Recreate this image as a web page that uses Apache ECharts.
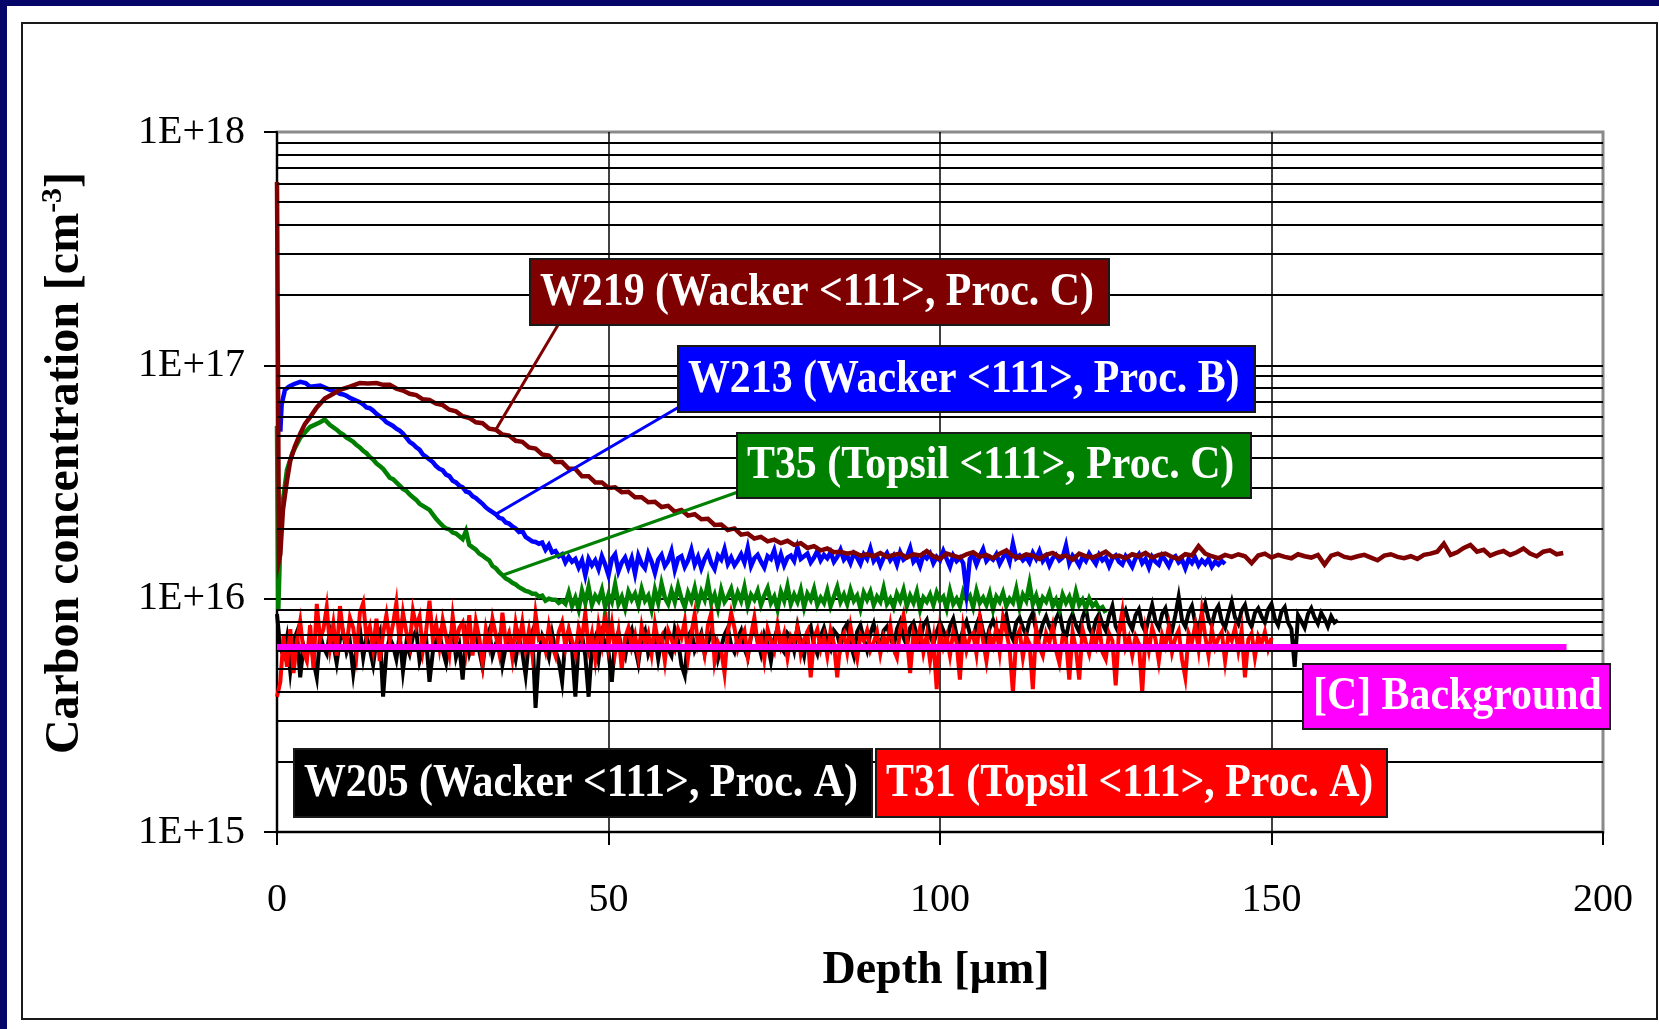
<!DOCTYPE html>
<html>
<head>
<meta charset="utf-8">
<title>Carbon concentration vs depth</title>
<script src="https://cdn.jsdelivr.net/npm/echarts@6/dist/echarts.min.js"></script>
<style>
  html, body { margin: 0; padding: 0; width: 1659px; height: 1029px; overflow: hidden; background: #06066a; }
  .panel { position: absolute; left: 7px; top: 6px; right: 0; bottom: 0; background: #ffffff; }
  .frame { position: absolute; left: 21px; top: 22px; width: 1637px; height: 998px; border: 2px solid #1a1a1a; box-sizing: border-box; }
  #chart { position: absolute; left: 0; top: 0; width: 1659px; height: 1029px; }
</style>
</head>
<body>
<div class="panel"></div>
<div class="frame"></div>
<div id="chart"></div>
<script>
// Concentrations are stored in units of 1E+15 cm^-3; depth in micrometres.
const xTicks = [0, 50, 100, 150, 200];
const yDecades = [1, 10, 100, 1000];           // 1E+15 ... 1E+18
const minorGrid = [2, 3, 4, 5, 6, 7, 8, 9, 20, 30, 40, 50, 60, 70, 80, 90, 200, 300, 400, 500, 600, 700, 800, 900];

// W219 (Wacker <111>, Proc. C): surface spike and rise, then 1 um steps from 15 um
const w219Head = [[0, 610], [0.3, 14.6], [0.5, 15.5], [0.9, 24], [1.5, 32], [2, 39], [2.7, 45], [3.5, 51], [4.2, 56], [5, 60], [6, 66], [7.2, 72], [8.3, 75], [9.5, 78.5], [11, 81], [12.5, 84], [13.7, 83.5]];
const w219Start = 15;
const w219Tail = [
  84, 82.5, 82.5, 79.5, 78, 75.5, 74.5, 71.5, 71, 68.5,
  67.5, 64.5, 63.5, 60.5, 59.5, 57, 56.5, 53.5, 53, 50.5,
  50, 47.5, 47, 44.5, 44, 41.5, 41, 38.5, 38.5, 36,
  36, 33.5, 33.5, 31.5, 31.5, 29.8, 30, 28.6, 28.7, 27.2,
  27.2, 25.9, 26, 24.7, 25, 23.6, 24, 22.7, 23, 21.9,
  22, 20.7, 20.8, 19.7, 20, 18.8, 19, 18.1, 18.4, 17.6,
  17.9, 17.3, 17.7, 17.0, 17.3, 16.5, 16.8, 16.1, 16.4, 15.8,
  15.9, 15.6, 15.8, 15.3, 15.5, 15.2, 15.7, 15.1, 15.4, 15.6,
  15.0, 15.5, 15.3, 16.0, 15.2, 14.8, 15.6, 15.3, 15.0, 15.5,
  15.8, 15.1, 15.4, 14.9, 15.6, 16.1, 15.2, 15.0, 15.5, 15.3,
  14.8, 15.4, 15.7, 15.1, 15.3, 14.7, 15.6, 15.2, 15.0, 15.4,
  15.9, 15.1, 15.3, 14.9, 15.5, 15.2, 15.7, 15.0, 15.4, 15.6,
  15.1, 14.8, 15.5, 15.3, 16.8, 15.6, 15.2, 14.9, 15.4, 15.1,
  15.5, 15.2, 14.2, 15.3, 15.6, 15.0, 15.4, 15.1, 14.9, 15.5,
  15.2, 15.0, 15.4, 14.0, 15.3, 15.6, 15.1, 14.9, 15.2, 15.4,
  15.0, 14.6, 15.3, 15.5, 15.1, 14.9, 15.2, 14.8, 15.4, 15.6,
  15.9, 17.2, 15.4, 15.8, 16.5, 17.0, 15.9, 16.2, 15.3, 15.7,
  16.0, 15.4, 15.8, 16.4, 15.6, 15.2, 15.9, 16.1, 15.5, 15.7
];

// W213 (Wacker <111>, Proc. B): 0.5 um steps from 9 um
const w213Head = [[0.5, 52], [0.7, 68], [1.2, 78.5], [1.8, 81], [2.5, 83], [3.5, 85], [4.3, 84], [5, 81], [6.5, 82], [8, 78.5]];
const w213Start = 9;
const w213Tail = [
  77, 75.5, 75, 74, 72.5, 71.5, 70.5, 69.5, 68, 66,
  65.5, 64, 62, 60.5, 59, 57, 56, 55, 53.5, 52.5,
  51, 49, 47, 46, 44.5, 43.5, 41.5, 40.5, 39.5, 38.5,
  37, 36, 35.5, 34, 33.5, 32, 31.5, 30.5, 30, 28.8,
  28.5, 27.5, 27, 26.2, 25.5, 24.6, 24, 23.5, 23, 22.2,
  22, 21.2, 21, 20.4, 20, 19.3, 19.5, 18.4, 18, 17.6,
  17.5, 17.2, 17.4, 16.2, 17, 15.8, 16, 15.2, 15.5, 14.3,
  15.1, 14.4, 14.8, 13.6, 14.6, 12.6, 14.8, 13.9,
  14.6, 13.4, 15.2, 14.0, 12.6, 14.8, 15.5, 13.1, 14.3, 15.0,
  13.6, 14.9, 12.8, 15.3, 14.1, 13.5, 15.6, 14.4, 12.9, 14.7,
  15.4, 13.8, 14.5, 16.0, 13.3, 14.9, 15.2, 13.7, 14.6, 16.2,
  14.0, 15.1, 13.5, 14.8, 15.7, 14.2, 13.4, 15.3, 14.7, 16.3,
  14.1, 15.0, 13.9, 14.6, 15.5, 14.3, 16.5, 13.8, 14.9, 15.4,
  14.4, 13.6, 15.2, 14.8, 16.1, 14.0, 15.5, 13.9, 15.0, 15.3,
  14.5, 16.6, 14.8, 15.2, 15.6, 14.3, 15.0, 16.0, 14.6, 15.4,
  14.9, 15.8, 14.4, 15.1, 16.2, 14.7, 15.3, 14.2, 15.6, 15.0,
  14.1, 15.5, 14.8, 16.4, 14.5, 15.2, 13.9, 15.0, 15.7, 14.6,
  15.3, 14.0, 15.8, 14.7, 15.1, 16.5, 14.4, 15.0, 13.8, 15.4,
  14.9, 15.6, 14.2, 15.1, 14.6, 16.0, 14.8, 13.7, 15.3, 14.5,
  15.0, 14.2, 10.6, 14.8, 15.4, 14.0, 15.2, 16.3, 14.5, 15.1,
  14.7, 15.5, 14.1, 15.0, 15.8, 14.4, 17.2, 14.9, 15.3, 14.6,
  15.1, 14.3, 15.7, 14.8, 16.0, 14.5, 15.2, 13.9, 14.9, 15.4,
  14.6, 15.0, 16.9, 14.2, 15.3, 14.7, 13.9, 15.1, 14.5, 15.6,
  14.8, 14.1, 15.4, 14.6, 15.0, 13.8, 14.9, 15.3, 14.4, 14.0,
  15.2, 14.5, 13.7, 14.9, 15.5, 14.2, 14.8, 13.6, 15.1, 14.4,
  14.0, 15.3, 14.6, 13.8, 14.9, 15.2, 14.3, 14.7, 13.5, 14.8,
  14.2, 15.0, 13.9, 14.6, 14.1, 14.8, 13.7, 14.4, 14.0, 14.5,
  14.1
];

// T35 (Topsil <111>, Proc. C): 0.5 um steps from 9 um
const t35Head = [[0, 55], [0.2, 9], [0.5, 18], [0.9, 26.5], [1.5, 35.6], [2.3, 42], [3.5, 49], [5, 54.5], [6.5, 57], [7.2, 58.5], [8, 55.5]];
const t35Start = 9;
const t35Tail = [
  53, 51.5, 50.5, 49, 48, 47, 45.5, 44.5, 43, 42,
  40.5, 39.5, 38, 37, 36, 34.5, 33, 32.5, 31.5, 30.5,
  29.5, 29, 28, 27.2, 26.5, 25.5, 25, 24.5, 24, 23,
  22, 21.2, 20.5, 20, 19.8, 19.2, 19, 18.5, 18, 19.5,
  17, 16.6, 16.2, 15.6, 15.3, 14.9, 14.6, 13.8, 13.5, 13,
  12.6, 12.2, 12, 11.7, 11.5, 11.2, 11, 10.8, 10.7, 10.5,
  10.5, 10.2, 10.3, 9.8, 10, 9.9, 9.9, 9.6, 9.8, 9.5,
  10.6, 9.3, 10.1, 9.0, 10.8, 9.6, 11.2, 9.4, 10.3, 9.8,
  10.9, 9.2, 10.4, 9.7, 11.5, 9.5, 10.2, 9.1, 10.7, 9.9,
  10.5, 9.4, 11.0, 9.8, 10.3, 9.0, 10.9, 9.6, 11.6, 10.1,
  9.5, 10.8, 9.7, 11.3, 10.0, 9.2, 10.6, 9.8, 11.1, 9.4,
  10.7, 9.9, 11.7, 9.6, 10.4, 9.1, 10.9, 9.7, 10.2, 11.0,
  9.5, 10.6, 9.8, 11.2, 9.3, 10.4, 9.9, 10.8, 9.4, 10.3,
  11.1, 9.6, 10.2, 9.0, 10.7, 9.8, 11.3, 9.5, 10.4, 9.7,
  10.9, 9.2, 10.5, 9.9, 11.0, 9.4, 10.1, 9.6, 10.8, 9.3,
  10.2, 11.2, 9.7, 10.4, 9.5, 10.9, 9.8, 10.3, 9.1, 10.6,
  9.9, 10.7, 9.4, 10.2, 9.7, 11.1, 9.5, 10.0, 9.2, 10.5,
  9.8, 10.9, 9.3, 10.3, 9.6, 10.7, 9.0, 10.1, 9.7, 10.4,
  9.4, 10.6, 9.8, 10.2, 9.1, 10.8, 9.5, 10.0, 9.3, 10.7,
  9.9, 10.3, 9.2, 10.8, 9.6, 10.1, 9.4, 10.5, 9.0, 10.2,
  9.7, 10.6, 9.3, 10.0, 9.6, 11.0, 9.2, 10.4, 9.8, 11.6,
  9.5, 10.3, 9.1, 10.1, 9.7, 10.6, 9.3, 9.9, 9.0, 10.4,
  9.6, 10.2, 9.2, 10.7, 9.4, 9.9, 9.1, 10.0, 9.3, 9.6,
  9.0, 9.2, 8.7
];

// W205 (Wacker <111>, Proc. A): 0.5 um steps from 0 um
const w205Start = 0;
const w205Tail = [
  8.6, 6.1, 5.7, 6.8, 4.9, 6.6, 7.2, 4.6, 6.3, 5.6,
  6.9, 5.4, 4.6, 7.0, 6.2, 5.8, 7.3, 6.4, 5.3, 6.7,
  7.1, 5.9, 6.5, 4.8, 6.2, 7.4, 5.6, 6.9, 6.1, 5.2,
  6.6, 7.2, 3.8, 5.9, 6.8, 6.3, 5.5, 7.0, 4.9, 6.4,
  5.8, 6.9, 7.3, 5.4, 6.1, 6.7, 4.4, 5.9, 6.6, 7.1,
  6.0, 5.3, 6.8, 7.4, 5.6, 6.3, 4.5, 6.9, 5.8, 6.5,
  7.2, 6.0, 5.1, 6.7, 7.3, 5.7, 6.4, 6.9, 5.2, 6.2,
  7.0, 6.4, 5.5, 6.8, 5.9, 4.7, 6.6, 7.2, 3.4, 5.8,
  6.9, 6.3, 5.6, 7.1, 6.0, 5.4, 4.4, 6.7, 7.3, 6.1,
  3.8, 6.5, 7.0, 5.7, 3.8, 6.2, 6.8, 5.5, 7.1, 6.4,
  5.9, 4.4, 6.6, 7.2, 6.0, 5.6, 6.9, 7.4, 6.2, 5.3,
  6.8, 7.3, 5.8, 6.4, 7.0, 5.5, 6.7, 7.2, 6.1, 5.7,
  7.4, 6.6, 5.2, 4.7, 6.9, 7.3, 6.0, 6.5, 7.1, 5.8,
  6.4, 7.2, 6.8, 5.5, 6.2, 7.0, 7.5, 6.3, 5.9, 6.8,
  7.3, 6.1, 5.6, 6.9, 7.4, 6.6, 5.8, 7.0, 6.4, 5.4,
  6.7, 7.5, 6.2, 5.9, 7.1, 6.8, 6.0, 7.6, 6.5, 5.7,
  7.2, 7.6, 6.3, 5.8, 6.9, 7.5, 6.6, 6.1, 7.3, 7.0,
  6.2, 7.4, 7.8, 6.4, 5.7, 7.2, 7.7, 6.7, 6.0, 7.1,
  7.8, 6.6, 6.1, 7.3, 7.6, 6.9, 6.2, 7.4, 8.0, 6.8,
  6.3, 7.5, 7.9, 7.0, 6.5, 7.7, 8.1, 6.9, 6.4, 7.2,
  7.9, 7.3, 6.6, 7.6, 8.2, 7.0, 6.5, 7.4, 8.0, 7.1,
  6.8, 7.7, 8.4, 7.2, 6.6, 7.5, 8.1, 7.4, 6.9, 7.8,
  8.5, 7.2, 6.7, 7.9, 8.3, 7.5, 7.0, 8.1, 8.7, 7.3,
  6.9, 7.8, 8.4, 7.6, 7.1, 8.2, 8.8, 7.4, 6.8, 8.0,
  8.6, 7.7, 7.2, 8.3, 9.1, 7.5, 7.0, 8.1, 8.6, 7.8,
  7.3, 8.4, 9.3, 7.6, 7.1, 8.2, 8.9, 7.9, 7.4, 8.5,
  9.0, 7.7, 7.2, 8.3, 9.4, 8.0, 7.5, 8.6, 9.1, 7.8,
  7.3, 8.5, 10.2, 8.1, 7.6, 8.7, 9.3, 7.9, 7.4, 8.6,
  9.5, 8.2, 7.7, 8.8, 9.3, 8.0, 7.5, 8.6, 9.7, 8.3,
  7.8, 8.9, 9.4, 8.1, 7.6, 8.7, 9.1, 8.4, 7.9, 9.0,
  9.5, 8.2, 7.7, 8.8, 9.2, 7.9, 7.4, 5.1, 8.5, 8.0,
  7.5, 8.6, 9.1, 8.3, 7.8, 8.7, 8.2, 7.6, 8.4, 7.9,
  8.1
];

// T31 (Topsil <111>, Proc. A): 0.5 um steps from 0 um
const t31Start = 0;
const t31Tail = [
  3.8, 4.4, 6.9, 5.1, 7.4, 4.8, 6.6, 8.0, 5.9, 5.4,
  7.7, 5.0, 9.5, 6.7, 7.4, 9.2, 6.2, 7.8, 5.7, 9.3,
  7.0, 6.3, 8.3, 7.5, 5.8, 8.7, 9.6, 6.8, 7.6, 6.1,
  8.2, 5.4, 7.1, 8.5, 6.6, 7.8, 9.6, 6.4, 8.7, 7.2,
  6.3, 8.9, 7.6, 8.4, 6.0, 7.3, 9.8, 6.7, 7.8, 6.2,
  8.1, 6.9, 5.8, 8.4, 6.5, 7.5, 7.9, 6.1, 8.5, 5.7,
  8.0, 6.8, 5.3, 7.4, 6.3, 8.2, 7.0, 5.9, 8.7, 6.5,
  7.1, 5.6, 7.8, 6.4, 7.9, 6.1, 7.3, 5.8, 8.6, 6.7,
  6.9, 6.0, 7.6, 6.3, 5.7, 7.2, 7.9, 6.2, 7.4, 6.6,
  5.8, 7.5, 6.7, 8.7, 6.1, 7.1, 5.5, 7.7, 6.4, 8.8,
  6.3, 7.8, 5.9, 7.2, 5.0, 6.8, 7.5, 6.2, 7.0, 5.7,
  7.6, 6.4, 7.1, 5.8, 7.8, 6.5, 6.9, 5.4, 7.3, 6.7,
  6.1, 7.4, 6.8, 8.0, 5.6, 7.1, 8.6, 6.3, 6.9, 5.8,
  7.7, 8.7, 5.4, 6.5, 6.0, 4.8, 7.2, 8.7, 7.5, 6.1,
  6.8, 7.3, 5.7, 7.0, 8.3, 6.4, 6.9, 5.5, 7.4, 6.6,
  6.0, 7.7, 6.3, 7.1, 5.6, 6.9, 6.5, 7.5, 5.8, 6.7,
  7.2, 4.6, 6.8, 7.4, 6.1, 6.9, 5.7, 7.3, 6.4, 4.6,
  6.7, 7.1, 5.9, 7.6, 6.3, 5.5, 7.0, 6.6, 7.3, 6.0,
  6.5, 7.2, 5.8, 6.9, 6.3, 7.7, 6.1, 5.6, 7.4, 8.5,
  6.8, 4.8, 7.1, 6.4, 7.5, 5.9, 7.0, 5.4, 6.7, 4.1,
  7.3, 6.2, 6.9, 5.7, 7.2, 6.5, 4.5, 7.4, 6.0, 6.8,
  7.1, 5.8, 8.2, 6.6, 5.4, 7.0, 6.3, 7.5, 5.9, 8.3,
  7.2, 6.1, 3.95, 6.8, 7.3, 5.6, 6.9, 6.4, 4.1, 7.5,
  6.2, 5.7, 7.1, 6.5, 7.6, 6.0, 5.3, 6.9, 6.7, 4.5,
  7.2, 6.1, 4.5, 7.4, 6.5, 5.8, 7.0, 6.3, 7.7, 5.9,
  5.5, 7.1, 6.6, 4.25, 7.3, 8.8, 6.2, 6.8, 5.7, 6.9,
  6.4, 3.95, 7.2, 6.0, 7.5, 6.7, 5.4, 7.0, 6.3, 7.6,
  5.9, 6.8, 7.3, 5.5, 4.6, 7.1, 6.5, 7.7, 6.1, 8.8,
  6.9, 5.7, 7.4, 6.2, 6.8, 7.2, 5.4, 7.0, 6.6, 7.5,
  6.0, 7.3, 4.6, 6.7, 7.1, 5.6, 6.9, 6.4, 7.2, 6.1,
  6.8
];

// Carbon background level and its depth range
const bgLevel = 6.15;
const bgRange = [0, 194.5];

// Depths on each curve that the label leaders point to
const leaderDepth = { w219: 33, w213: 33, t35: 34 };

function build(head, start, step, tail) {
  return head.concat(tail.map((v, i) => [start + i * step, v]));
}

const w219 = build(w219Head, w219Start, 1, w219Tail);
const w213 = build(w213Head, w213Start, 0.5, w213Tail);
const t35 = build(t35Head, t35Start, 0.5, t35Tail);
const w205 = build([], w205Start, 0.5, w205Tail);
const t31 = build([], t31Start, 0.5, t31Tail);
const background = bgRange.map(d => [d, bgLevel]);

const SERIF = '"Liberation Serif", "Times New Roman", serif';

function lineSeries(name, data, color, width) {
  return {
    name, type: 'line', data, symbol: 'none', showSymbol: false,
    lineStyle: { color, width, join: 'miter' }, itemStyle: { color },
    silent: true, animation: false
  };
}

const chart = echarts.init(document.getElementById('chart'), null, { renderer: 'canvas' });

chart.setOption({
  animation: false,
  backgroundColor: 'transparent',
  grid: { left: 277, top: 132, width: 1326, height: 700, show: true, borderColor: '#8a8a8a', borderWidth: 3, backgroundColor: 'transparent' },
  xAxis: {
    type: 'value', min: xTicks[0], max: xTicks[xTicks.length - 1], interval: 50,
    axisLine: { show: true, onZero: false, lineStyle: { color: '#000', width: 2 } },
    axisTick: { show: true, length: 13, lineStyle: { color: '#000', width: 2 } },
    axisLabel: { color: '#000', fontFamily: SERIF, fontSize: 40, margin: 48 },
    splitLine: { show: true, showMinLine: false, showMaxLine: false, lineStyle: { color: '#000', width: 1.5 } }
  },
  yAxis: {
    type: 'log', logBase: 10, min: yDecades[0], max: yDecades[yDecades.length - 1],
    axisLine: { show: true, onZero: false, lineStyle: { color: '#000', width: 2 } },
    axisTick: { show: true, length: 13, lineStyle: { color: '#000', width: 2 } },
    axisLabel: {
      color: '#000', fontFamily: SERIF, fontSize: 40, margin: 32,
      formatter: v => '1E+' + (15 + Math.round(Math.log10(v)))
    },
    minorTick: { show: false },
    splitLine: { show: true, showMinLine: false, showMaxLine: false, lineStyle: { color: '#000', width: 2 } }
  },
  series: [
    {
      name: 'grid', type: 'line', data: [], silent: true, animation: false,
      markLine: {
        silent: true, animation: false, symbol: ['none', 'none'], label: { show: false },
        lineStyle: { color: '#000', width: 2, type: 'solid' },
        data: minorGrid.map(v => ({ yAxis: v }))
      }
    },
    lineSeries('W205', w205, '#000000', 4),
    lineSeries('T31', t31, '#ff0000', 4),
    lineSeries('T35', t35, '#008000', 4.5),
    lineSeries('W213', w213, '#0000ff', 4.5),
    lineSeries('W219', w219, '#7f0000', 4.5),
    lineSeries('[C] Background', background, '#ff00ff', 8)
  ]
});

// Label boxes, leaders and axis titles
const boxes = [
  { text: 'W219 (Wacker <111>, Proc. C)', fill: '#7f0000', x: 530, y: 259, w: 579, h: 66 },
  { text: 'W213 (Wacker <111>, Proc. B)', fill: '#0000ff', x: 678, y: 346, w: 577, h: 66 },
  { text: 'T35 (Topsil <111>, Proc. C)', fill: '#008000', x: 737, y: 433, w: 514, h: 65 },
  { text: '[C] Background', fill: '#ff00ff', x: 1303, y: 664, w: 307, h: 65 },
  { text: 'W205 (Wacker <111>, Proc. A)', fill: '#000000', x: 294, y: 749, w: 578, h: 68 },
  { text: 'T31 (Topsil <111>, Proc. A)', fill: '#ff0000', x: 876, y: 749, w: 511, h: 68 }
];

function pointAt(data, depth) {
  const p = data.find(d => d[0] === depth);
  return chart.convertToPixel({ gridIndex: 0 }, p);
}

const leaders = [
  { from: [558, 325], to: pointAt(w219, leaderDepth.w219), color: '#7f0000' },
  { from: [679, 407], to: pointAt(w213, leaderDepth.w213), color: '#0000ff' },
  { from: [738, 492], to: pointAt(t35, leaderDepth.t35), color: '#008000' }
];

const graphics = [];
leaders.forEach(l => graphics.push({
  type: 'line', z: 90, silent: true,
  shape: { x1: l.from[0], y1: l.from[1], x2: l.to[0], y2: l.to[1] },
  style: { stroke: l.color, lineWidth: 3 }
}));
boxes.forEach(b => {
  graphics.push({
    type: 'rect', z: 100, silent: true,
    shape: { x: b.x, y: b.y, width: b.w, height: b.h },
    style: { fill: b.fill, stroke: '#1a1a1a', lineWidth: 2 }
  });
  graphics.push({
    type: 'text', z: 101, silent: true, x: b.x + 10, y: b.y + b.h / 2 + 1, scaleX: 0.91,
    style: { text: b.text, fill: '#ffffff', font: 'bold 46px ' + SERIF, verticalAlign: 'middle', align: 'left' }
  });
});
graphics.push({
  type: 'text', z: 101, silent: true, x: 936, y: 971,
  style: { text: 'Depth [\u00b5m]', fill: '#000', font: 'bold 46px ' + SERIF, align: 'center', verticalAlign: 'middle' }
});
graphics.push({
  type: 'text', z: 101, silent: true, x: 66, y: 463, rotation: Math.PI / 2,
  style: {
    text: '{b|Carbon concentration [cm}{s|-3}{b|]}', align: 'center', verticalAlign: 'middle',
    rich: {
      b: { fontFamily: SERIF, fontWeight: 'bold', fontSize: 48, fill: '#000', lineHeight: 56 },
      s: { fontFamily: SERIF, fontWeight: 'bold', fontSize: 30, fill: '#000', lineHeight: 56, verticalAlign: 'top', padding: [0, 0, 22, 0] }
    }
  }
});

chart.setOption({ graphic: graphics });
</script>
</body>
</html>
